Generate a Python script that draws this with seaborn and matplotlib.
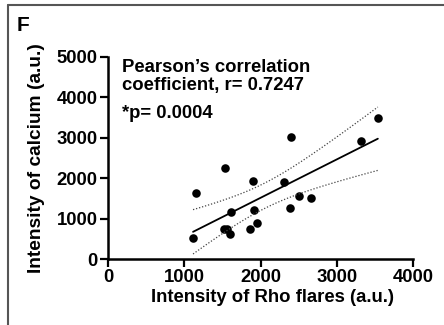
import numpy as np
import pandas as pd
import matplotlib
matplotlib.use('Agg')
import matplotlib.pyplot as plt
import seaborn as sns
from matplotlib.lines import Line2D

# значения
rho_flares = [1115, 1160, 1540, 1520, 1565, 1605, 1610, 1865, 1900, 1915,
              1955, 2310, 2380, 2400, 2500, 2655, 3315, 3535]
calcium = [515, 1635, 2255, 760, 740, 620, 1165, 760, 1935, 1205,
           900, 1895, 1270, 3010, 1570, 1505, 2910, 3480]
x_ticks = [0, 1000, 2000, 3000, 4000]
y_ticks = [0, 1000, 2000, 3000, 4000, 5000]

data = pd.DataFrame({'rho': rho_flares, 'ca': calcium})

sns.set_style('ticks')
plt.rcParams['font.family'] = ['Liberation Sans', 'DejaVu Sans']
plt.rcParams['font.weight'] = 'bold'
plt.rcParams['text.color'] = 'black'
plt.rcParams['axes.labelcolor'] = 'black'
plt.rcParams['xtick.color'] = 'black'
plt.rcParams['ytick.color'] = 'black'
plt.rcParams['axes.edgecolor'] = 'black'

fs = 13.3

fig = plt.figure(figsize=(4.44, 3.25), dpi=100)
ax = fig.add_axes([0.243, 0.202, 0.688, 0.624])

sns.regplot(data=data, x='rho', y='ca', ax=ax, ci=None, truncate=True,
            scatter_kws={'s': 38, 'color': 'black', 'linewidths': 0, 'alpha': 1},
            line_kws={'color': 'black', 'lw': 1.3})

# 95% доверительный интервал линии регрессии
n = len(data)
b, a = np.polyfit(data['rho'], data['ca'], 1)
resid = data['ca'] - (a + b * data['rho'])
s = np.sqrt((resid ** 2).sum() / (n - 2))
xm = data['rho'].mean()
sxx = ((data['rho'] - xm) ** 2).sum()
t_crit = 2.120  # t(0.975, df=16)
xs = np.linspace(data['rho'].min(), data['rho'].max(), 100)
fit = a + b * xs
half = t_crit * s * np.sqrt(1 / n + (xs - xm) ** 2 / sxx)
ax.plot(xs, fit + half, color='#444444', lw=0.9, ls=(0, (1, 1.5)))
ax.plot(xs, fit - half, color='#444444', lw=0.9, ls=(0, (1, 1.5)))

ax.set_xlim(0, 4000)
ax.set_ylim(0, 5000)
ax.set_xticks(x_ticks)
ax.set_yticks(y_ticks)
ax.tick_params(labelsize=fs, width=1.6, length=5.8, pad=1.5)
for lab in ax.get_xticklabels() + ax.get_yticklabels():
    lab.set_fontweight('bold')
for sp in ['left', 'bottom']:
    ax.spines[sp].set_linewidth(1.8)
sns.despine(ax=ax)

ax.set_xlabel('Intensity of Rho flares (a.u.)', fontsize=fs, fontweight='bold')
ax.set_ylabel('Intensity of calcium (a.u.)', fontsize=13.8, fontweight='bold')
ax.xaxis.set_label_coords(0.54, -0.145)
ax.yaxis.set_label_coords(-0.205, 0.5)

ax.text(0.047, 0.99, 'Pearson\u2019s correlation\ncoefficient, r= 0.7247',
        transform=ax.transAxes, fontsize=fs, fontweight='bold', va='top',
        linespacing=1.1)
ax.text(0.047, 0.696, '*p= 0.0004', transform=ax.transAxes, fontsize=fs,
        fontweight='bold', va='baseline')

fig.text(0.038, 0.905, 'F', fontsize=15, fontweight='bold')

# рамка слева и сверху
fig.add_artist(Line2D([0.017, 0.017], [0, 0.986], transform=fig.transFigure,
                      color='#555555', lw=1.5))
fig.add_artist(Line2D([0.017, 1], [0.986, 0.986], transform=fig.transFigure,
                      color='#555555', lw=1.5))

fig.savefig('out.png', dpi=100)
